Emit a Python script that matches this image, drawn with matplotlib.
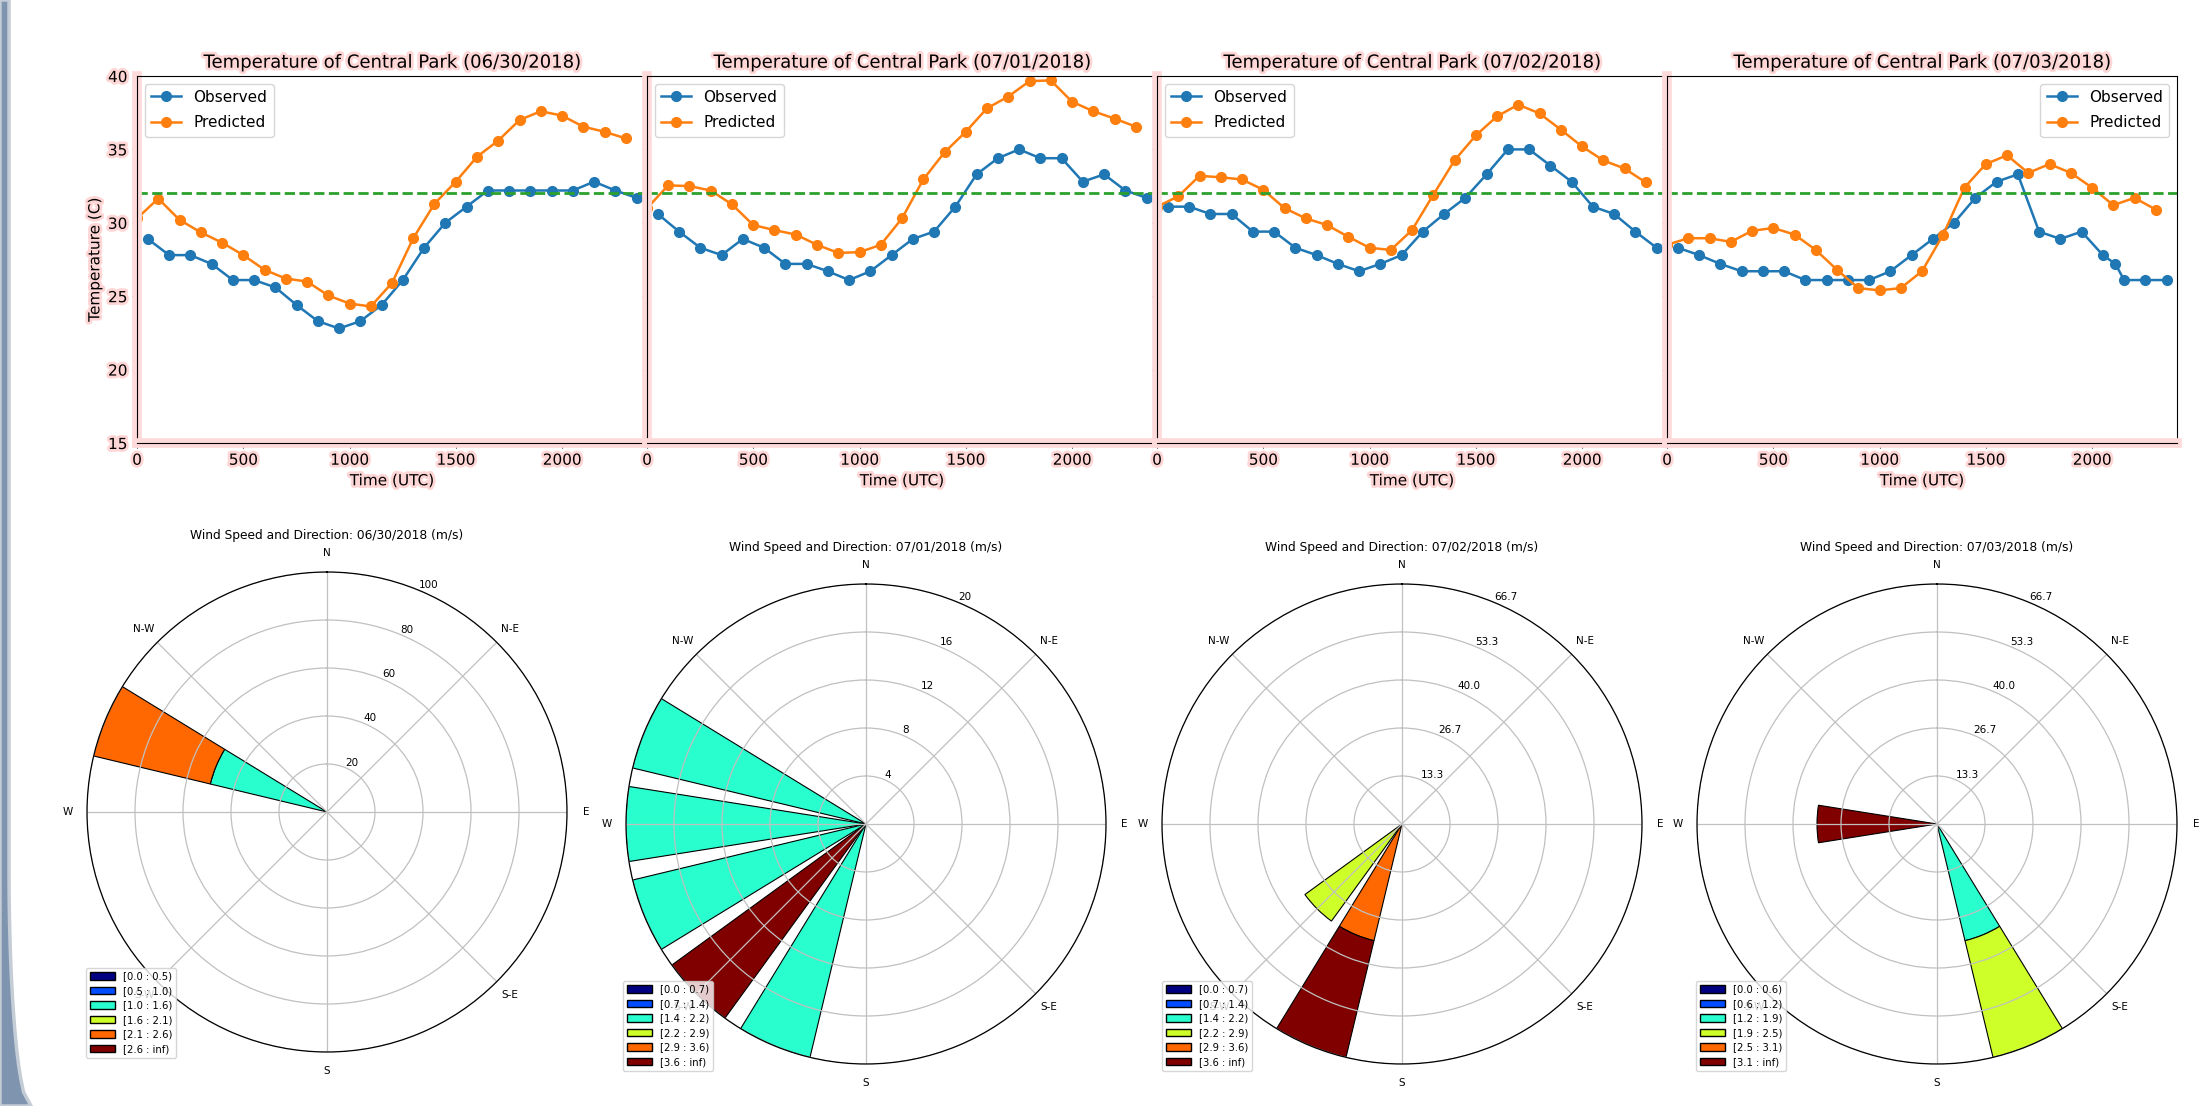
import matplotlib
matplotlib.use('Agg')
import matplotlib.pyplot as plt
import matplotlib.patheffects as pe
from matplotlib.patches import Patch, Polygon
import numpy as np

days = ['06/30/2018', '07/01/2018', '07/02/2018', '07/03/2018']

# observation times (UTC, hhmm) and temperatures (C)
obs_times = [
    [51, 151, 251, 351, 451, 551, 651, 751, 851, 951, 1051, 1151,
     1251, 1351, 1451, 1551, 1651, 1751, 1851, 1951, 2051, 2151, 2251, 2351],
    [51, 151, 251, 351, 451, 551, 651, 751, 851, 951, 1051, 1151,
     1251, 1351, 1451, 1551, 1651, 1751, 1851, 1951, 2051, 2151, 2251, 2351],
    [51, 151, 251, 351, 451, 551, 651, 751, 851, 951, 1051, 1151,
     1251, 1351, 1451, 1551, 1651, 1751, 1851, 1951, 2051, 2151, 2251, 2351],
    [51, 151, 251, 351, 451, 551, 651, 751, 851, 951, 1051, 1151,
     1251, 1351, 1451, 1551, 1651, 1751, 1851, 1951, 2051, 2110, 2151, 2251, 2351],
]
obs_temps = [
    [28.9, 27.8, 27.8, 27.2, 26.1, 26.1, 25.6, 24.4, 23.3, 22.8, 23.3, 24.4,
     26.1, 28.3, 30.0, 31.1, 32.2, 32.2, 32.2, 32.2, 32.2, 32.8, 32.2, 31.7],
    [30.6, 29.4, 28.3, 27.8, 28.9, 28.3, 27.2, 27.2, 26.7, 26.1, 26.7, 27.8,
     28.9, 29.4, 31.1, 33.3, 34.4, 35.0, 34.4, 34.4, 32.8, 33.3, 32.2, 31.7],
    [31.1, 31.1, 30.6, 30.6, 29.4, 29.4, 28.3, 27.8, 27.2, 26.7, 27.2, 27.8,
     29.4, 30.6, 31.7, 33.3, 35.0, 35.0, 33.9, 32.8, 31.1, 30.6, 29.4, 28.3],
    [28.3, 27.8, 27.2, 26.7, 26.7, 26.7, 26.1, 26.1, 26.1, 26.1, 26.7, 27.8,
     28.9, 30.0, 31.7, 32.8, 33.3, 29.4, 28.9, 29.4, 27.8, 27.2, 26.1, 26.1, 26.1],
]

# model forecast, on the hour
pred_times = [0, 100, 200, 300, 400, 500, 600, 700, 800, 900, 1000, 1100,
              1200, 1300, 1400, 1500, 1600, 1700, 1800, 1900, 2000, 2100, 2200, 2300]
pred_temps = [
    [30.3, 31.65, 30.2, 29.35, 28.65, 27.8, 26.8, 26.2, 26.0, 25.05, 24.5, 24.3,
     25.9, 28.95, 31.3, 32.8, 34.5, 35.6, 37.0, 37.6, 37.3, 36.55, 36.2, 35.75],
    [31.0, 32.55, 32.5, 32.2, 31.25, 29.85, 29.5, 29.2, 28.5, 27.95, 28.0, 28.5,
     30.3, 32.95, 34.8, 36.2, 37.8, 38.6, 39.65, 39.7, 38.25, 37.6, 37.1, 36.55],
    [31.1, 31.8, 33.2, 33.1, 32.95, 32.25, 31.0, 30.3, 29.85, 29.05, 28.3, 28.15,
     29.5, 31.9, 34.25, 35.95, 37.25, 38.05, 37.45, 36.35, 35.2, 34.25, 33.7, 32.75],
    [28.5, 28.95, 28.95, 28.7, 29.45, 29.65, 29.2, 28.15, 26.8, 25.55, 25.4, 25.55,
     26.7, 29.2, 32.4, 34.0, 34.6, 33.4, 34.0, 33.4, 32.4, 31.2, 31.7, 30.9],
]
threshold = 32

# wind roses: sector directions (deg) and % of obs per speed bin
rose_dirs = [
    [292.5],
    [292.5, 270, 247.5, 225, 202.5],
    [225, 202.5],
    [270, 157.5],
]
rose_pcts = [
    [[0, 0, 50, 0, 50, 0]],
    [[0, 0, 20, 0, 0, 0], [0, 0, 20, 0, 0, 0], [0, 0, 20, 0, 0, 0],
     [0, 0, 0, 0, 0, 20], [0, 0, 20, 0, 0, 0]],
    [[0, 0, 0, 33.33, 0, 0], [0, 0, 0, 0, 33.33, 33.33]],
    [[0, 0, 0, 0, 0, 33.33], [0, 0, 33.33, 33.33, 0, 0]],
]
rose_bins = [
    ['[0.0 : 0.5)', '[0.5 : 1.0)', '[1.0 : 1.6)', '[1.6 : 2.1)', '[2.1 : 2.6)', '[2.6 : inf)'],
    ['[0.0 : 0.7)', '[0.7 : 1.4)', '[1.4 : 2.2)', '[2.2 : 2.9)', '[2.9 : 3.6)', '[3.6 : inf)'],
    ['[0.0 : 0.7)', '[0.7 : 1.4)', '[1.4 : 2.2)', '[2.2 : 2.9)', '[2.9 : 3.6)', '[3.6 : inf)'],
    ['[0.0 : 0.6)', '[0.6 : 1.2)', '[1.2 : 1.9)', '[1.9 : 2.5)', '[2.5 : 3.1)', '[3.1 : inf)'],
]
compass = ['N', 'N-E', 'E', 'S-E', 'S', 'S-W', 'W', 'N-W']

W, H = 2212, 1106
fig = plt.figure(figsize=(W / 100, H / 100), dpi=100)

# slide frame on the left edge
ys = np.linspace(0, H, 80)
t = np.clip((ys - 870) / 236, 0, 1)
edge = 9 + 22 * (1 - np.sqrt(1 - t ** 2))
pts = [(0, 1)] + [(x / W, 1 - y / H) for x, y in zip(edge, ys)] + [(0, 0)]
fig.patches.append(Polygon(pts, closed=True, transform=fig.transFigure,
                           facecolor='#7f95af', edgecolor='#c4ccd6', linewidth=2.5))

glow = [pe.withStroke(linewidth=4, foreground='#ffd6d6')]
spine_glow = [pe.Stroke(linewidth=7, foreground='#ffdada'), pe.Normal()]

# ---- temperature panels ----
gs = fig.add_gridspec(1, 4, left=137 / W, right=2177 / W, top=1 - 76 / H,
                      bottom=1 - 443 / H, wspace=0)
temp_axes = gs.subplots(sharey=True)
for i, ax in enumerate(temp_axes):
    ax.plot(obs_times[i], obs_temps[i], 'o-', color='C0', markersize=7,
            linewidth=1.8, label='Observed')
    ax.plot(pred_times, pred_temps[i], 'o-', color='C1', markersize=7,
            linewidth=1.8, label='Predicted')
    ax.axhline(threshold, color='C2', linestyle='--', linewidth=2)
    ax.set_xlim(0, 2400)
    ax.set_ylim(15, 40)
    ax.set_xticks([0, 500, 1000, 1500, 2000])
    ax.set_yticks([15, 20, 25, 30, 35, 40])
    ax.tick_params(labelsize=11)
    ax.set_title(f'Temperature of Central Park ({days[i]})', fontsize=13,
                 path_effects=glow)
    ax.set_xlabel('Time (UTC)', fontsize=11, path_effects=glow)
    for lbl in ax.get_xticklabels() + ax.get_yticklabels():
        lbl.set_path_effects(glow)
    ax.spines['left'].set_path_effects(spine_glow)
    ax.spines['bottom'].set_path_effects(spine_glow)
    ax.legend(loc='upper right' if i == 3 else 'upper left', fontsize=11,
              labelspacing=0.7)
temp_axes[0].set_ylabel('Temperature (C)', fontsize=11, path_effects=glow)

# ---- wind roses ----
colors = plt.cm.jet(np.linspace(0, 1, 6))
centers = [(327, 812), (866, 824), (1402, 824), (1937, 824)]
legend_pos = [(86, 1058), (623, 1071), (1162, 1071), (1696, 1071)]
R = 240
for i in range(4):
    cx, cy = centers[i]
    ax = fig.add_axes([(cx - R) / W, 1 - (cy + R) / H, 2 * R / W, 2 * R / H],
                      projection='polar')
    ax.set_theta_zero_location('N')
    ax.set_theta_direction(-1)
    width = np.radians(22.5 * 0.8)
    totals = []
    for d, pcts in zip(rose_dirs[i], rose_pcts[i]):
        base = 0
        for b, v in enumerate(pcts):
            if v > 0:
                ax.bar(np.radians(d), v, width=width, bottom=base,
                       color=colors[b], edgecolor='black', linewidth=0.8)
            base += v
        totals.append(base)
    rmax = max(totals)
    ax.set_ylim(0, rmax)
    radii = np.linspace(0, rmax, 6)[1:]
    if np.allclose(radii, np.round(radii)):
        rlabels = [f'{r:.0f}' for r in radii]
    else:
        rlabels = [f'{r:.1f}' for r in radii]
    ax.set_rgrids(radii, rlabels, angle=22.5, fontsize=7.5)
    ax.set_thetagrids(range(0, 360, 45), compass, fontsize=7.5)
    ax.tick_params(axis='x', pad=3)
    ax.grid(color='#c0c0c0', linewidth=0.9)
    ax.spines['polar'].set_linewidth(0.9)
    ax.set_title(f'Wind Speed and Direction: {days[i]} (m/s)', fontsize=8.8, pad=24)
    handles = [Patch(facecolor=c, edgecolor='black') for c in colors]
    lx, ly = legend_pos[i]
    ax.legend(handles, rose_bins[i], loc='lower left',
              bbox_to_anchor=(lx / W, 1 - ly / H), bbox_transform=fig.transFigure,
              borderaxespad=0, fontsize=7.2, handlelength=2.5, handleheight=0.8,
              labelspacing=0.45, handletextpad=0.8, borderpad=0.4)

fig.savefig('out.png', dpi=100)
